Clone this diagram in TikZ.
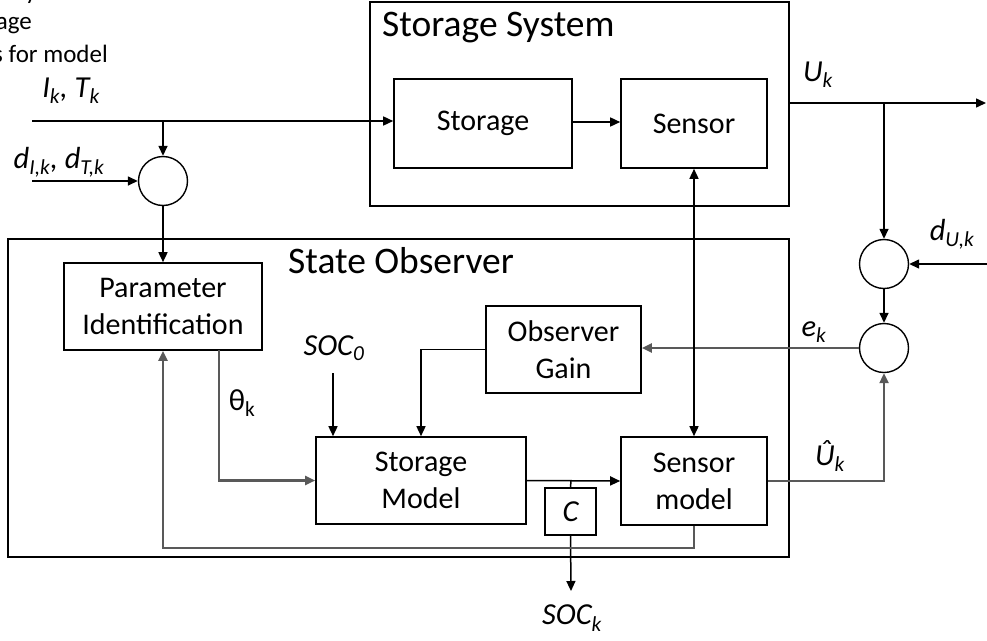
\documentclass[tikz,border=0pt]{standalone}
\usepackage{fontspec}
\setmainfont{Carlito}
\usetikzlibrary{arrows.meta,calc}
\begin{document}
\begin{tikzpicture}[x=1pt,y=-1pt,
  >={Triangle[length=10pt,width=9pt]},
  box/.style={draw, line width=1.6pt, inner sep=0pt},
  sumpt/.style={draw, circle, line width=1.4pt, minimum size=49pt, inner sep=0pt},
  wire/.style={line width=1.5pt, ->},
  gwire/.style={line width=2.2pt, draw=black!65, ->},
  lbl/.style={font=\fontsize{30.5}{35}\selectfont\itshape, inner sep=0pt},
  boxtxt/.style={font=\fontsize{30}{37}\selectfont, align=center},
  ttl/.style={font=\fontsize{37.5}{42}\selectfont, anchor=west, inner sep=0pt},
  frag/.style={font=\fontsize{25}{30}\selectfont, anchor=base east, inner sep=0pt}]
\useasboundingbox (0,0) rectangle (987,640);

% top-left text, cut off at the edge as in the reference
\node[frag] (f1) at (37,-1) {y};
\node[frag] (f2) at (32,29) {age};
\node[frag] (f3) at (108,62) {s for model};

% big boxes
\node[box, minimum width=419pt, minimum height=204pt] (sys) at (579.5,104) {};
\node[box, minimum width=781pt, minimum height=318pt] (obs) at (398.5,398) {};
\node[ttl] (systtl) at (382,28) {Storage System};
\node[ttl] (obsttl) at (288,261) {State Observer};

% inner boxes
\node[box, boxtxt, minimum width=178pt, minimum height=89pt] (stor) at (483,123.5) {Storage};
\node[box, boxtxt, minimum width=146pt, minimum height=89pt] (sens) at (694,123.5) {Sensor};
\node[box, boxtxt, minimum width=198pt, minimum height=87pt] (pid) at (163,306.5) {Parameter\\Identification};
\node[box, boxtxt, minimum width=155pt, minimum height=87pt] (gain) at (563.5,349.5) {Observer\\Gain};
\node[box, boxtxt, minimum width=210pt, minimum height=87pt] (smod) at (421,480.5) {Storage\\Model};
\node[box, boxtxt, minimum width=146pt, minimum height=88pt] (senm) at (694,481) {Sensor\\model};
\node[box, lbl, minimum width=51pt, minimum height=47pt] (cbox) at (570.5,511.5) {C};

% summing points
\node[sumpt] (c1) at (163,181) {};
\node[sumpt] (c2) at (884,264) {};
\node[sumpt] (c3) at (884,348) {};

% coordinates
\coordinate (in1) at (32,121);
\coordinate (br1) at (163,121);
\coordinate (din) at (32,181);
\coordinate (uend) at (986,103);
\coordinate (br2) at (884,103);
\coordinate (dun) at (987,264);
\coordinate (soc0) at (333,373);
\coordinate (thx) at (219,350);
\coordinate (jn) at (571,481);
\coordinate (socend) at (571,591);
\coordinate (fb) at (163,548);

% connectors
\draw[wire] (in1) -- (in1 -| stor.west);
\draw[wire] (br1) -- (c1.north);
\draw[wire] (din) -- (c1.west);
\draw[wire] (c1.south) -- (pid.north);
\draw[wire] (stor.east |- 0,122) -- (sens.west |- 0,122);
\draw[wire] (sys.east |- uend) -- (uend);
\draw[wire] (br2) -- (c2.north);
\draw[wire] (dun) -- (c2.east);
\draw[wire] (c2.south) -- (c3.north);
\draw[gwire] (c3.west) -- (gain.east |- c3.west);
\draw[wire] (gain.west) -| (smod.north);
\draw[wire] (soc0) -- (soc0 |- smod.north);
\draw[gwire] (thx) |- (smod.west);
\draw[wire] (smod.east) -- (senm.west);
\draw[line width=1.5pt] (jn) -- (cbox.north);
\draw[wire] (cbox.south) -- (socend);
\draw[wire, <->] (sens.south) -- (senm.north);
\draw[gwire] (senm.east) -| (c3.south);
\draw[gwire] (senm.south) |- (fb) -- (pid.south);

% labels
\node[lbl] (lik) at (71,91) {I\textsubscript{k}, T\textsubscript{k}};
\node[lbl] (ldk) at (59,162) {d\textsubscript{I,k}, d\textsubscript{T,k}};
\node[lbl] (luk) at (818,75) {U\textsubscript{k}};
\node[lbl] (lduk) at (952,234) {d\textsubscript{U,k}};
\node[lbl] (lek) at (814,332) {e\textsubscript{k}};
\node[lbl] (luhk) at (830,456) {Û\textsubscript{k}};
\node[lbl, font=\fontsize{30.5}{35}\selectfont\upshape] (lth) at (242,403) {θ\textsubscript{k}};
\node[lbl] (lsoc0) at (334,348) {SOC\textsubscript{0}};
\node[lbl] (lsock) at (572,618) {SOC\textsubscript{k}};
\end{tikzpicture}
\end{document}
